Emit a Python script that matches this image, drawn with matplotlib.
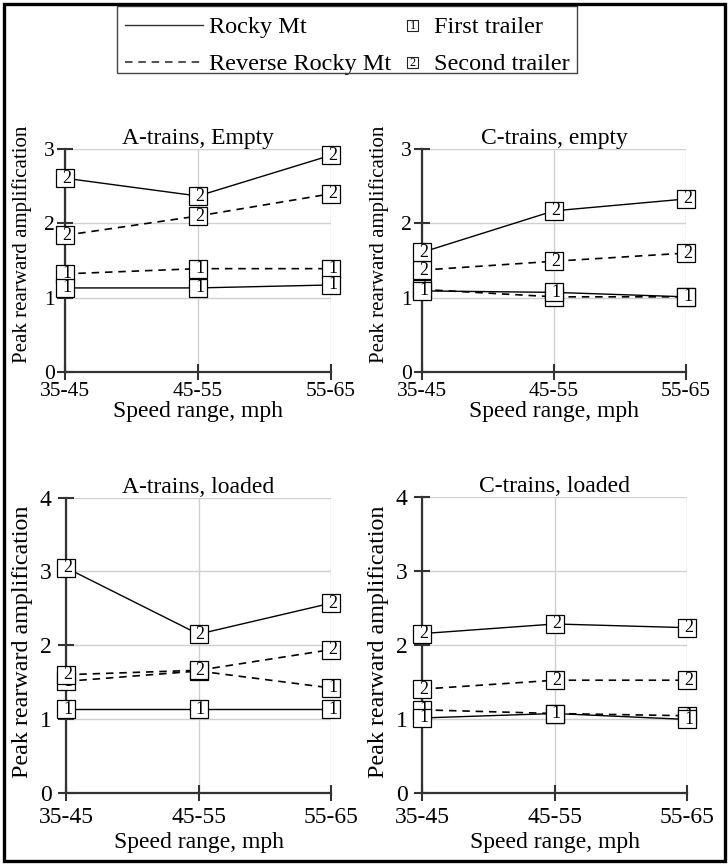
import matplotlib
matplotlib.use("Agg")
import matplotlib.pyplot as plt
from matplotlib.lines import Line2D
from matplotlib.patches import Rectangle
from matplotlib.text import Text
from matplotlib.legend_handler import HandlerBase

plt.rcParams['font.family'] = ['Liberation Serif', 'DejaVu Serif']

speed_ranges = ["35-45", "45-55", "55-65"]

# A-trains, Empty
a_empty_rocky_first = [1.13, 1.13, 1.17]
a_empty_rocky_second = [2.61, 2.37, 2.92]
a_empty_rev_first = [1.32, 1.39, 1.39]
a_empty_rev_second = [1.84, 2.10, 2.40]

# C-trains, empty
c_empty_rocky_first = [1.09, 1.07, 1.01]
c_empty_rocky_second = [1.61, 2.17, 2.33]
c_empty_rev_first = [1.11, 1.01, 1.01]
c_empty_rev_second = [1.37, 1.49, 1.60]

# A-trains, loaded
a_loaded_rocky_first = [1.13, 1.13, 1.13]
a_loaded_rocky_second = [3.05, 2.15, 2.57]
a_loaded_rev_first = [1.51, 1.65, 1.42]
a_loaded_rev_second = [1.60, 1.66, 1.94]

# C-trains, loaded
c_loaded_rocky_first = [1.01, 1.07, 0.99]
c_loaded_rocky_second = [2.15, 2.28, 2.23]
c_loaded_rev_first = [1.12, 1.07, 1.04]
c_loaded_rev_second = [1.40, 1.52, 1.52]

titles = ["A-trains, Empty", "C-trains, empty", "A-trains, loaded", "C-trains, loaded"]
y_max = [3, 3, 4, 4]
panels = [
    (a_empty_rocky_first, a_empty_rocky_second, a_empty_rev_first, a_empty_rev_second),
    (c_empty_rocky_first, c_empty_rocky_second, c_empty_rev_first, c_empty_rev_second),
    (a_loaded_rocky_first, a_loaded_rocky_second, a_loaded_rev_first, a_loaded_rev_second),
    (c_loaded_rocky_first, c_loaded_rocky_second, c_loaded_rev_first, c_loaded_rev_second),
]

W, H = 728, 864
fig = plt.figure(figsize=(W / 100, H / 100), dpi=100)

# axes boxes in pixels: (left, right, top(y=ymax), bottom(y=0))
boxes = [
    (65, 331, 149.3, 371.7),
    (422, 686, 149.3, 371.7),
    (66, 331, 497.7, 792.7),
    (422.3, 687.3, 496.7, 792.7),
]
# per-panel text styling (top row is vertically squeezed in the reference)
tick_fs = [15.5, 15.5, 17, 17]
ylab_fs = [15.0, 15.0, 17.3, 17.3]
ylab_y = [0.571, 0.571, 0.51, 0.51]
xlab_pad = [0, 0, 3, 3]
tick_pad = [2, 2, 5, 5]

DASH = (4.5, 3.5)

for i, (ax_box, title, ym, series) in enumerate(zip(boxes, titles, y_max, panels)):
    l, r, t, b = ax_box
    ax = fig.add_axes([l / W, 1 - b / H, (r - l) / W, (b - t) / H])
    ax.set_xlim(0, len(speed_ranges) - 1)
    ax.set_ylim(0, ym)
    xs = list(range(len(speed_ranges)))
    ax.set_xticks(xs)
    ax.set_xticklabels(speed_ranges)
    ax.set_yticks(range(0, ym + 1))
    ax.grid(True, color='#d0d0d0', linewidth=1.0, zorder=0)
    ax.set_axisbelow(True)
    for s in ['top', 'right']:
        ax.spines[s].set_visible(False)
    for s in ['left', 'bottom']:
        ax.spines[s].set_color('#333333')
        ax.spines[s].set_linewidth(1.6)
    ax.tick_params(direction='inout', length=11, width=1.5, color='#333333',
                   labelsize=tick_fs[i], pad=tick_pad[i])
    ax.set_title(title, fontsize=17, pad=3)
    ax.set_xlabel("Speed range, mph", fontsize=17, labelpad=xlab_pad[i])
    ax.set_ylabel("Peak rearward amplification", fontsize=ylab_fs[i])
    ax.yaxis.set_label_coords(-0.125, ylab_y[i])

    rocky_first, rocky_second, rev_first, rev_second = series
    specs = [
        (rev_first, '1', 'dashed'),
        (rocky_first, '1', 'solid'),
        (rev_second, '2', 'dashed'),
        (rocky_second, '2', 'solid'),
    ]
    z = 3
    for vals, digit, style in specs:
        if style == 'dashed':
            ax.plot(xs, vals, color='k', lw=1.2, dashes=DASH, zorder=z, clip_on=False)
        else:
            ax.plot(xs, vals, color='k', lw=1.0, zorder=z, clip_on=False)
        ax.plot(xs, vals, linestyle='none', marker='s', ms=12.5, mfc='white',
                mec='k', mew=0.9, zorder=z + 0.5, clip_on=False)
        for xv, yv in zip(xs, vals):
            ax.text(xv + 0.012, yv, digit, ha='center', va='center', fontsize=13,
                    zorder=z + 0.7, clip_on=False)
        z += 1


class BoxDigitHandler(HandlerBase):
    def __init__(self, digit):
        super().__init__()
        self.digit = digit

    def create_artists(self, legend, orig_handle, xdescent, ydescent, width,
                       height, fontsize, trans):
        s = 7.6
        x0 = -xdescent + width - s - 7.0
        y0 = -ydescent + (height - s) / 2 - 0.5
        rect = Rectangle((x0, y0), s, s, facecolor='white', edgecolor='#222222',
                         linewidth=0.8, transform=trans)
        txt = Text(x0 + s / 2 + 0.4, y0 + s / 2 - 0.1, self.digit, ha='center',
                   va='center', fontsize=8.8, transform=trans,
                   fontfamily='Liberation Serif')
        return [rect, txt]


h_solid = Line2D([], [], color='#333333', lw=1.0)
h_dash = Line2D([], [], color='#333333', lw=1.2, dashes=DASH)
h_box1 = Rectangle((0, 0), 1, 1)
h_box2 = Rectangle((0, 0), 1, 1)
leg = fig.legend([h_solid, h_dash, h_box1, h_box2],
                 ["Rocky Mt", "Reverse Rocky Mt", "First trailer", "Second trailer"],
                 handler_map={h_box1: BoxDigitHandler('1'), h_box2: BoxDigitHandler('2')},
                 ncol=2, loc='upper center', bbox_to_anchor=(347 / W, 1 - 11 / H),
                 fontsize=17.5, frameon=False, handlelength=3.2,
                 handletextpad=0.25, columnspacing=-1.7, labelspacing=0.62,
                 borderpad=0.22, borderaxespad=0)

# legend frame (reference frame is taller at the top than the text rows need)
fig.patches.append(Rectangle((117 / W, 1 - 73 / H), 460 / W, 67 / H,
                             transform=fig.transFigure, fill=False,
                             edgecolor='#444444', linewidth=1.0, zorder=9))

fig.patches.append(Rectangle((3.5 / W, 3.5 / H), 1 - 7 / W, 1 - 7 / H,
                             transform=fig.transFigure, fill=False,
                             edgecolor='black', linewidth=2.4, zorder=10))

fig.savefig("out.png", dpi=100)
